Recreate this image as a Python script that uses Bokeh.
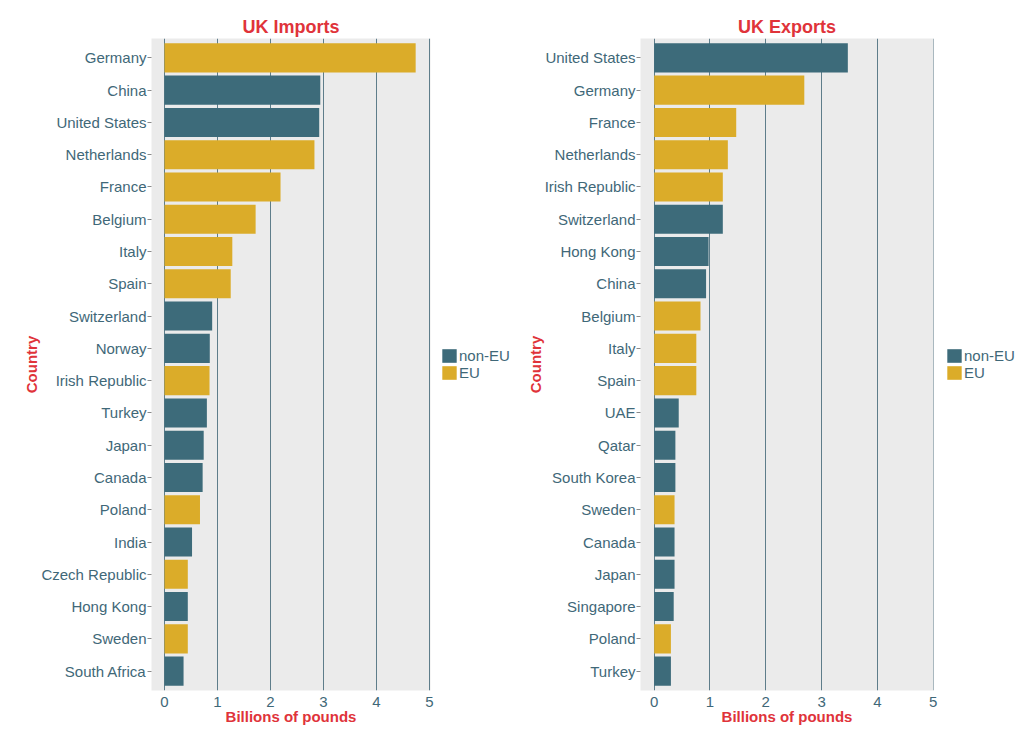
from bokeh.plotting import figure
from bokeh.layouts import row
from bokeh.models import ColumnDataSource, FactorRange, Range1d, Legend, LegendItem, FixedTicker
from bokeh.embed import file_html
from bokeh.resources import INLINE

# ---------------- data ----------------
import_countries = ["Germany", "China", "United States", "Netherlands", "France", "Belgium",
                    "Italy", "Spain", "Switzerland", "Norway", "Irish Republic", "Turkey",
                    "Japan", "Canada", "Poland", "India", "Czech Republic", "Hong Kong",
                    "Sweden", "South Africa"]
import_values = [4.74, 2.94, 2.92, 2.83, 2.19, 1.72, 1.28, 1.25, 0.90, 0.855, 0.85, 0.80,
                 0.74, 0.72, 0.67, 0.52, 0.44, 0.44, 0.44, 0.36]
import_groups = ["EU", "non-EU", "non-EU", "EU", "EU", "EU", "EU", "EU", "non-EU", "non-EU",
                 "EU", "non-EU", "non-EU", "non-EU", "EU", "non-EU", "EU", "non-EU", "EU",
                 "non-EU"]

export_countries = ["United States", "Germany", "France", "Netherlands", "Irish Republic",
                    "Switzerland", "Hong Kong", "China", "Belgium", "Italy", "Spain", "UAE",
                    "Qatar", "South Korea", "Sweden", "Canada", "Japan", "Singapore", "Poland",
                    "Turkey"]
export_values = [3.47, 2.69, 1.47, 1.32, 1.23, 1.23, 0.975, 0.93, 0.83, 0.755, 0.755, 0.44,
                 0.38, 0.38, 0.365, 0.365, 0.365, 0.35, 0.30, 0.30]
export_groups = ["non-EU", "EU", "EU", "EU", "EU", "non-EU", "non-EU", "non-EU", "EU", "EU",
                 "EU", "non-EU", "non-EU", "non-EU", "EU", "non-EU", "non-EU", "non-EU", "EU",
                 "non-EU"]

group_names = ["non-EU", "EU"]
x_ticks = [0, 1, 2, 3, 4, 5]

# ---------------- style ----------------
TEAL = "#3d6b7a"
GOLD = "#dbac29"
COLORS = {"non-EU": TEAL, "EU": GOLD}
RED = "#e0333a"
TXT = "#3f6878"
GRID = "#5e7d8a"
FONT = "Liberation Sans"
H = 735


def group_sources(countries, values, groups):
    out = {}
    for g in group_names:
        idx = [i for i, gg in enumerate(groups) if gg == g]
        out[g] = ColumnDataSource(dict(country=[countries[i] for i in idx],
                                       value=[values[i] for i in idx]))
    return out


def make_panel(title, countries, sources, left_border, frame_w, x_end):
    factors = list(reversed(countries))
    p = figure(width=left_border + frame_w + 8, height=H, output_backend="svg",
               toolbar_location=None,
               y_range=FactorRange(factors=factors, range_padding=0.1,
                                   range_padding_units="absolute"),
               x_range=Range1d(-0.245, x_end),
               min_border_left=left_border, min_border_right=8,
               min_border_top=38, min_border_bottom=45)
    for g in group_names:
        p.hbar(y="country", left=0, right="value", height=0.9, source=sources[g],
               fill_color=COLORS[g], line_color=None)

    p.background_fill_color = "#ebebeb"
    p.border_fill_color = "white"
    p.outline_line_color = None

    p.title.text = title
    p.title.align = "center"
    p.title.text_font = FONT
    p.title.text_font_size = "18px"
    p.title.text_font_style = "bold"
    p.title.text_color = RED
    p.title.standoff = 4

    p.xgrid.grid_line_color = GRID
    p.xgrid.grid_line_width = 1
    p.ygrid.grid_line_color = None
    p.xaxis.ticker = FixedTicker(ticks=x_ticks)

    for ax in (p.xaxis[0], p.yaxis[0]):
        ax.axis_line_color = None
        ax.major_label_text_font = FONT
        ax.major_label_text_font_size = "15px"
        ax.major_label_text_color = TXT
        ax.axis_label_text_font = FONT
        ax.axis_label_text_font_size = "15px"
        ax.axis_label_text_font_style = "bold"
        ax.axis_label_text_color = RED
        ax.minor_tick_line_color = None

    p.xaxis.axis_label = "Billions of pounds"
    p.xaxis.major_tick_line_color = None
    p.xaxis.major_label_standoff = 0
    p.xaxis.axis_label_standoff = -2

    p.yaxis.axis_label = "Country"
    p.yaxis.major_tick_in = 0
    p.yaxis.major_tick_out = 4
    p.yaxis.major_tick_line_color = "#8a8a8a"
    p.yaxis.major_label_standoff = 1
    p.yaxis.axis_label_standoff = -2
    return p


def make_legend(width, x_off, countries, sources):
    # legend-only panel: the group renderers here are zero-size, so only the key shows
    lf = figure(width=width, height=H, output_backend="svg", toolbar_location=None,
                x_axis_type=None, y_axis_type=None,
                x_range=Range1d(0, 5), y_range=FactorRange(factors=countries),
                min_border_left=0, min_border_right=0, min_border_top=38,
                min_border_bottom=45)
    lf.outline_line_color = None
    lf.background_fill_color = "white"
    lf.border_fill_color = "white"
    lf.xgrid.grid_line_color = None
    lf.ygrid.grid_line_color = None
    items = []
    for g in group_names:
        r = lf.hbar(y="country", left="value", right="value", height=0, source=sources[g],
                    fill_color=COLORS[g], line_color=None)
        items.append(LegendItem(label=g, renderers=[r]))
    legend = Legend(items=items, location=(x_off, 309), orientation="vertical",
                    glyph_width=18, glyph_height=17, label_height=14, spacing=0,
                    label_standoff=1, padding=0, margin=0,
                    label_text_font=FONT, label_text_font_size="15px",
                    label_text_color=TXT, border_line_color=None,
                    background_fill_alpha=0)
    lf.add_layout(legend)
    return lf


imp_src = group_sources(import_countries, import_values, import_groups)
exp_src = group_sources(export_countries, export_values, export_groups)

p1 = make_panel("UK Imports", import_countries, imp_src, 151, 279, 5.02)
l1 = make_legend(82, 2, import_countries, imp_src)
p2 = make_panel("UK Exports", export_countries, exp_src, 120, 293, 5.005)
l2 = make_legend(74, 4, export_countries, exp_src)

layout = row(p1, l1, p2, l2)
open("out.html", "w").write(file_html(layout, INLINE))
